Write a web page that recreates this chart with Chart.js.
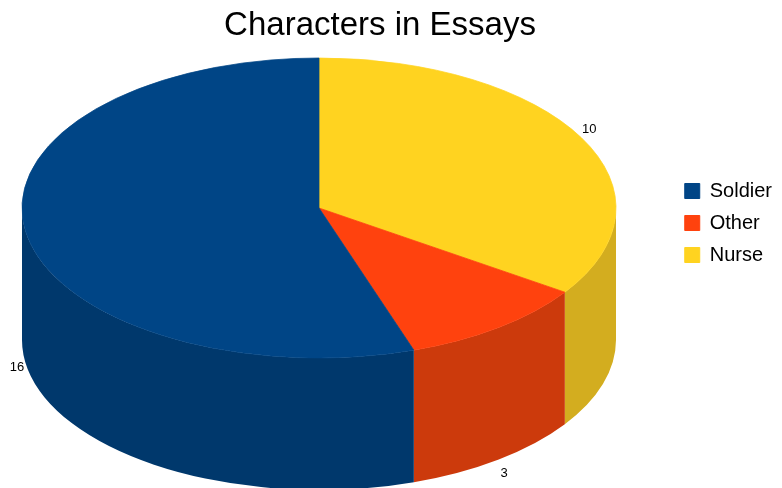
<!DOCTYPE html>
<html>
<head>
<meta charset="utf-8">
<script src="https://cdn.jsdelivr.net/npm/chart.js@4/dist/chart.umd.min.js"></script>
<style>
  html, body { margin: 0; padding: 0; background: #fff; }
</style>
</head>
<body>
<canvas id="myPie" width="782" height="488"></canvas>
<script>
// slices go clockwise from 12 o'clock, the legend lists them reversed
let labels = ['Nurse', 'Other', 'Soldier']
let counts = [10, 3, 16]
let topColors = ['#ffd320', '#ff420e', '#004586']
let sideColors = ['#d3ad1f', '#cc3a0c', '#00386c']

// tilted look: centre of the top face, squash factor, wall height
const PIE_CX = 319, PIE_CY = 208, RX = 297, TILT = 150 / 297, DEPTH = 132

// parts of an arc that lie on the front (visible) half of the rim
function frontSpans(a0, a1) {
  let spans = []
  for (let off of [-2 * Math.PI, 0, 2 * Math.PI]) {
    let s = Math.max(a0, off), e = Math.min(a1, off + Math.PI)
    if (e > s) spans.push([s, e])
  }
  return spans
}

const pie3d = {
  id: 'pie3d',
  beforeDatasetsDraw(chart) {
    const ctx = chart.ctx
    const arcs = chart.getDatasetMeta(0).data
    arcs.forEach((arc, i) => {
      const rx = arc.outerRadius, ry = rx * TILT
      frontSpans(arc.startAngle, arc.endAngle).forEach(([s, e]) => {
        ctx.beginPath()
        ctx.ellipse(PIE_CX, PIE_CY, rx, ry, 0, s, e, false)
        ctx.lineTo(PIE_CX + rx * Math.cos(e), PIE_CY + DEPTH + ry * Math.sin(e))
        ctx.ellipse(PIE_CX, PIE_CY + DEPTH, rx, ry, 0, e, s, true)
        ctx.closePath()
        ctx.fillStyle = sideColors[i]
        ctx.fill()
      })
    })
    // squash the flat pie into the top face
    const a = arcs[0]
    ctx.save()
    ctx.translate(PIE_CX, PIE_CY)
    ctx.scale(1, TILT)
    ctx.translate(-a.x, -a.y)
  },
  afterDatasetsDraw(chart) {
    const ctx = chart.ctx
    ctx.restore()
    const arcs = chart.getDatasetMeta(0).data
    ctx.save()
    ctx.fillStyle = '#000'
    ctx.font = '13px "Liberation Sans", Arial, sans-serif'
    ctx.textAlign = 'center'
    ctx.textBaseline = 'middle'
    arcs.forEach((arc, i) => {
      const m = (arc.startAngle + arc.endAngle) / 2
      const rx = arc.outerRadius + 9, ry = arc.outerRadius * TILT + 17
      let x = PIE_CX + rx * Math.cos(m)
      let y = PIE_CY + ry * Math.sin(m)
      if (Math.sin(m) > 0) y += DEPTH
      ctx.fillText(counts[i], x, y)
    })
    ctx.restore()
  }
}

let cht = document.getElementById('myPie')
let pieChart = new Chart(cht, {
  type: 'pie',
  data: {
    labels: labels,
    datasets: [{
      data: counts,
      backgroundColor: topColors,
      borderColor: topColors,
      borderWidth: 1,
      radius: RX,
      clip: false
    }]
  },
  options: {
    responsive: false,
    animation: false,
    layout: { padding: { top: 0, right: 0, bottom: 42, left: -22 } },
    plugins: {
      title: {
        display: true,
        text: 'Characters in Essays',
        color: '#000',
        font: { family: '"Liberation Sans", Arial, sans-serif', size: 33, weight: 'normal' },
        padding: { top: 6, bottom: 10 }
      },
      legend: {
        position: 'right',
        reverse: true,
        labels: {
          boxWidth: 15,
          boxHeight: 15,
          padding: 12,
          color: '#000',
          font: { family: '"Liberation Sans", Arial, sans-serif', size: 20 }
        }
      },
      tooltip: { enabled: false }
    }
  },
  plugins: [pie3d]
})
</script>
</body>
</html>
